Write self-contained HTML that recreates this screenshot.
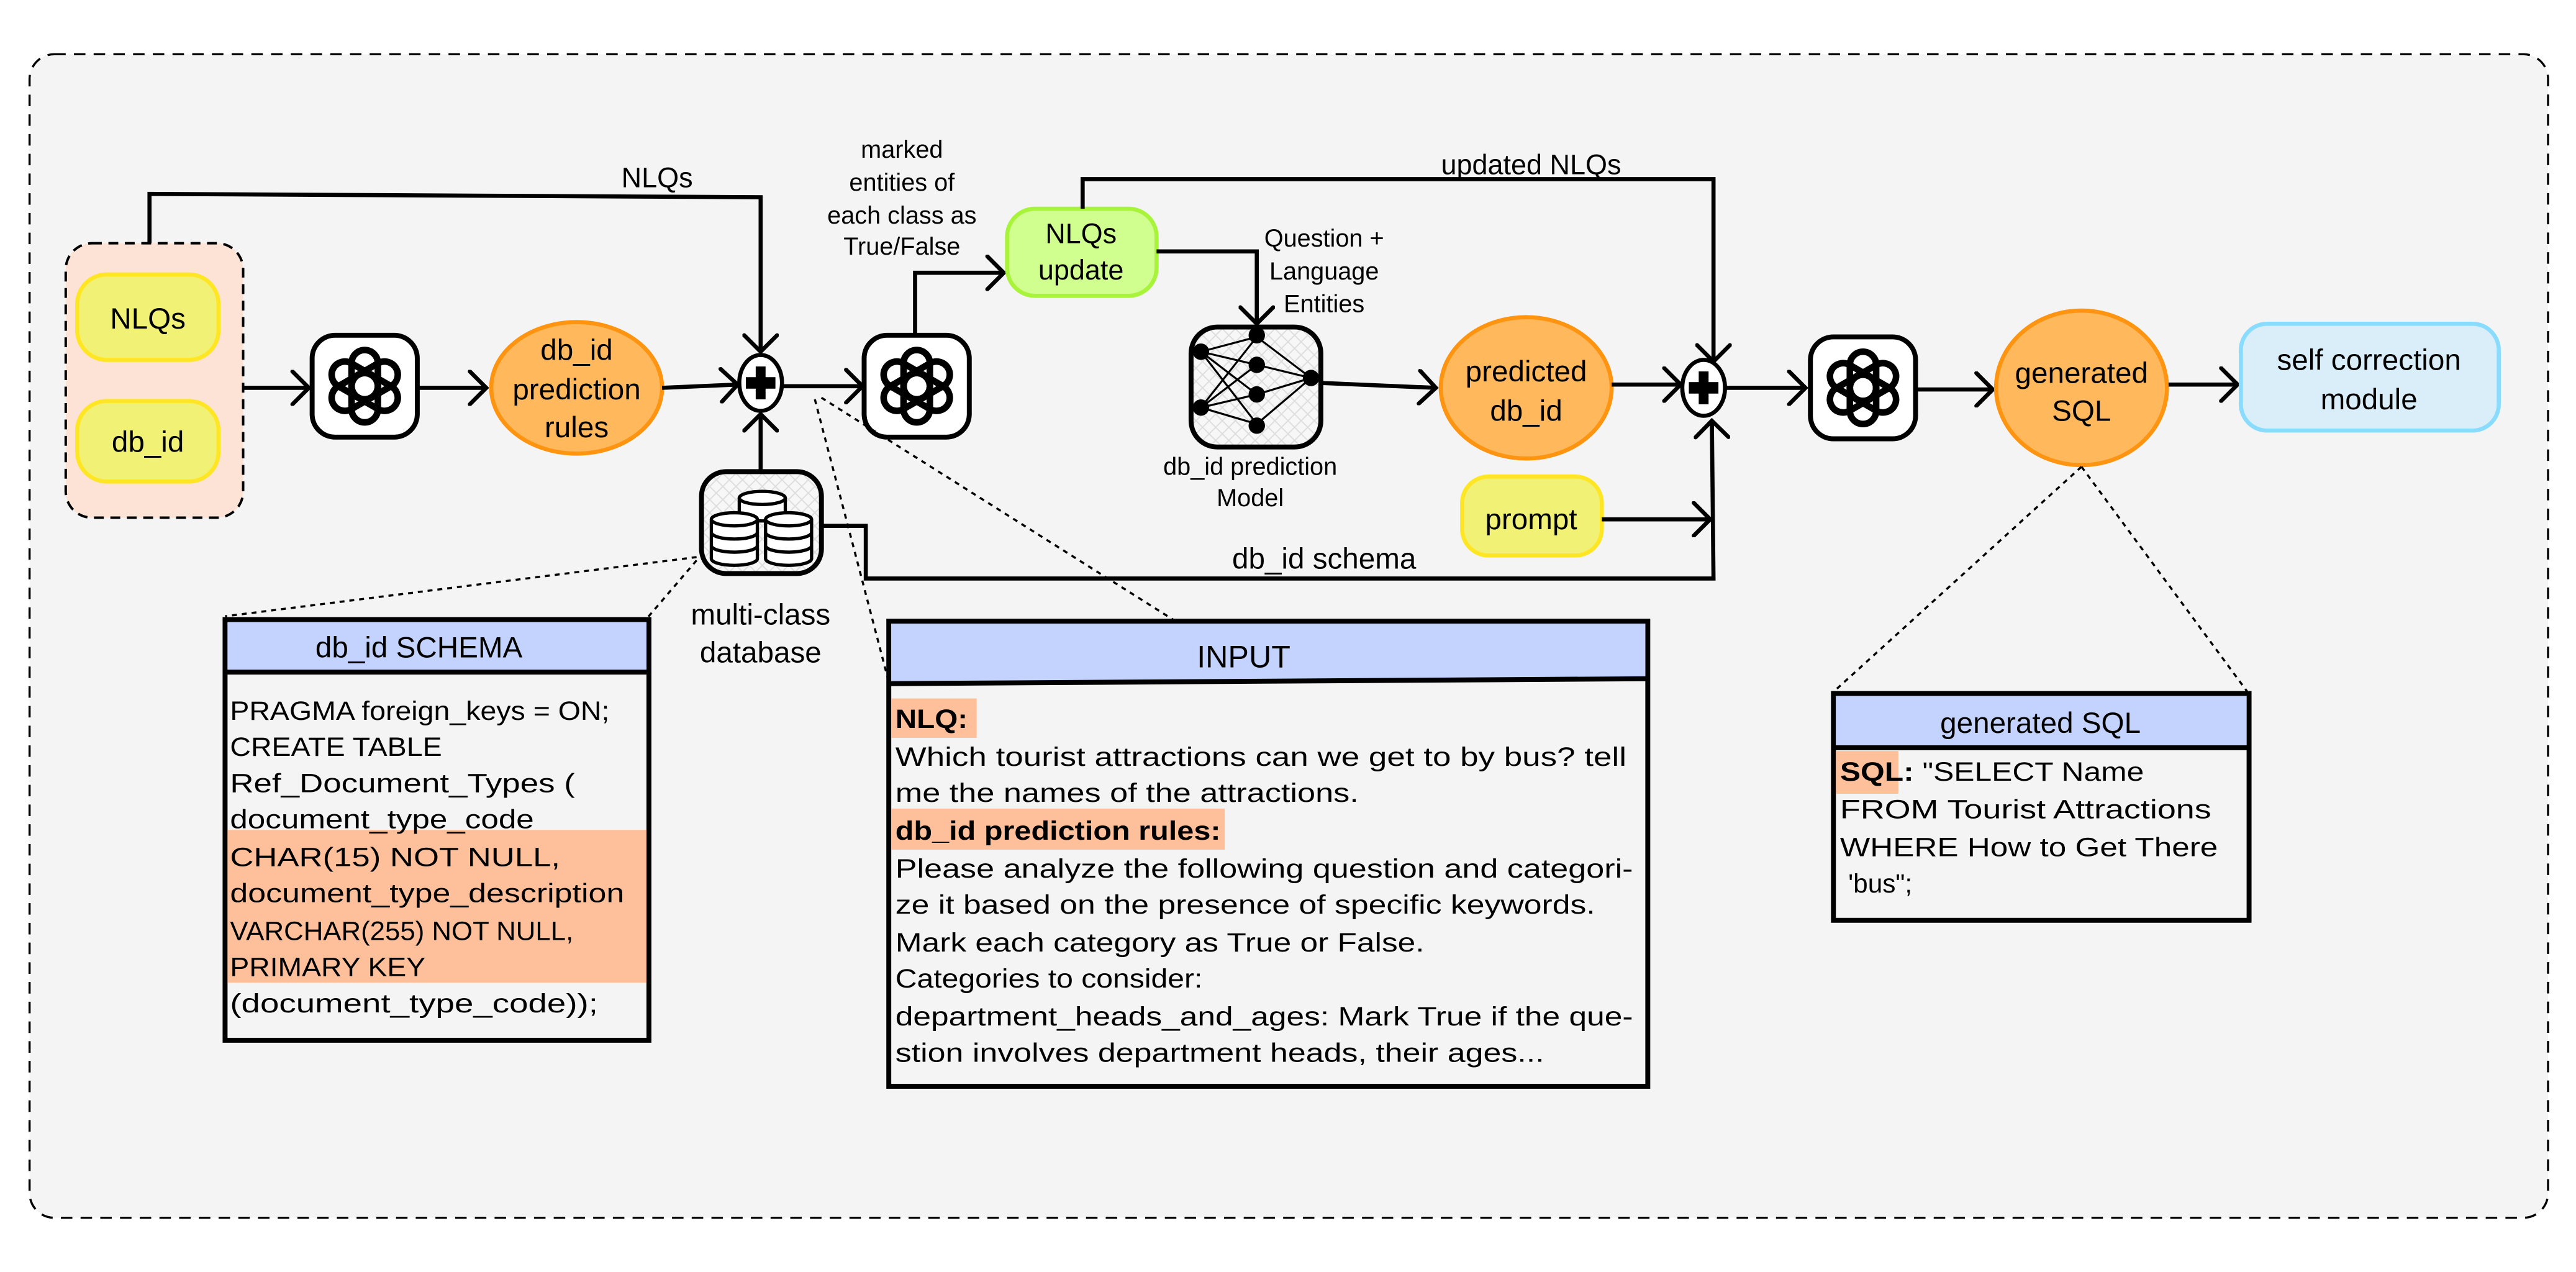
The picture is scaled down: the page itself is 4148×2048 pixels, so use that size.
<!DOCTYPE html>
<html><head><meta charset="utf-8"><style>
html,body{margin:0;padding:0;background:#fff;}
svg{display:block;}
text{font-family:"Liberation Sans",sans-serif;fill:#000;}
</style></head><body>
<svg width="4148" height="2048" viewBox="0 0 1568 774" preserveAspectRatio="none" xmlns="http://www.w3.org/2000/svg">
<defs>
<marker id="ar" markerUnits="userSpaceOnUse" markerWidth="14" markerHeight="22" refX="12" refY="11" orient="auto">
<path d="M2,1 L12,11 L2,21" fill="none" stroke="#000" stroke-width="2.5" stroke-linecap="round"/>
</marker>
<pattern id="hatch" width="8" height="8" patternUnits="userSpaceOnUse">
<rect width="8" height="8" fill="#f7f7f7"/><path d="M0,0 L8,8 M8,0 L0,8" stroke="#ddd" stroke-width="0.7"/>
</pattern>
<g id="gpt">
<rect x="-32" y="-31" width="64" height="62" rx="14" fill="#fff" stroke="#000" stroke-width="3"/>
<g fill="none" stroke="#000" stroke-width="4">
<rect x="-8" y="-22" width="16" height="30" rx="8" transform="rotate(0)"/>
<rect x="-8" y="-22" width="16" height="30" rx="8" transform="rotate(60)"/>
<rect x="-8" y="-22" width="16" height="30" rx="8" transform="rotate(120)"/>
<rect x="-8" y="-22" width="16" height="30" rx="8" transform="rotate(180)"/>
<rect x="-8" y="-22" width="16" height="30" rx="8" transform="rotate(240)"/>
<rect x="-8" y="-22" width="16" height="30" rx="8" transform="rotate(300)"/>
</g>
</g>
<g id="plus">
<ellipse cx="0" cy="0" rx="13" ry="17" fill="#fff" stroke="#000" stroke-width="2.5"/>
<rect x="-3" y="-10" width="6" height="20" fill="#000"/><rect x="-9" y="-3.5" width="18" height="7" fill="#000"/>
</g>
</defs>

<rect x="0" y="0" width="1568" height="774" fill="#fff"/>
<rect x="18" y="33" width="1533" height="708" rx="15" fill="#f4f4f4" stroke="#000" stroke-width="1.3" stroke-dasharray="7,5"/>

<rect x="40" y="148" width="108" height="167" rx="16" fill="#fde2d6" stroke="#000" stroke-width="1.5" stroke-dasharray="6,4"/>
<rect x="47" y="167" width="86" height="52" rx="18" fill="#f1f176" stroke="#ffe625" stroke-width="2.5"/>
<text x="90" y="200" font-size="18" text-anchor="middle">NLQs</text>
<rect x="47" y="244" width="86" height="49" rx="18" fill="#f1f176" stroke="#ffe625" stroke-width="2.5"/>
<text x="90" y="275" font-size="18" text-anchor="middle">db_id</text>

<path d="M91,148 L91,118 L463,120 L463,214" fill="none" stroke="#000" stroke-width="2.5" marker-end="url(#ar)"/>
<text x="400" y="114" font-size="17" text-anchor="middle">NLQs</text>

<line x1="148" y1="236" x2="188" y2="236" stroke="#000" stroke-width="2.5" marker-end="url(#ar)"/>
<use href="#gpt" x="222" y="235"/>
<line x1="254" y1="236" x2="296" y2="236" stroke="#000" stroke-width="2.5" marker-end="url(#ar)"/>
<ellipse cx="351" cy="236" rx="52" ry="40" fill="#ffb95c" stroke="#ff9410" stroke-width="2.5"/>
<text x="351" y="219" font-size="18" text-anchor="middle">db_id</text>
<text x="351" y="243" font-size="18" text-anchor="middle">prediction</text>
<text x="351" y="266" font-size="18" text-anchor="middle">rules</text>
<line x1="403" y1="236" x2="449" y2="234" stroke="#000" stroke-width="2.5" marker-end="url(#ar)"/>
<line x1="463" y1="287" x2="463" y2="252" stroke="#000" stroke-width="2.5" marker-end="url(#ar)"/>
<use href="#plus" x="463" y="233"/>
<line x1="477" y1="235" x2="525" y2="235" stroke="#000" stroke-width="2.5" marker-end="url(#ar)"/>

<rect x="427" y="287" width="73" height="62" rx="15" fill="url(#hatch)" stroke="#000" stroke-width="3"/>
<g fill="#fff" stroke="#000" stroke-width="2">
<path d="M450,303 v10 a14,4 0 0 0 28,0 v-10"/><ellipse cx="464" cy="303" rx="14" ry="4"/>
<path d="M433,316 v24 a14,4 0 0 0 28,0 v-24"/><ellipse cx="447" cy="316" rx="14" ry="4"/>
<path d="M433,324 a14,4 0 0 0 28,0 M433,332 a14,4 0 0 0 28,0" fill="none"/>
<path d="M466,316 v24 a14,4 0 0 0 28,0 v-24"/><ellipse cx="480" cy="316" rx="14" ry="4"/>
<path d="M466,324 a14,4 0 0 0 28,0 M466,332 a14,4 0 0 0 28,0" fill="none"/>
</g>
<text x="463" y="380" font-size="18" text-anchor="middle">multi-class</text>
<text x="463" y="403" font-size="18" text-anchor="middle">database</text>

<path d="M500,320 L527,320 L527,352 L1043,352 L1042,256" fill="none" stroke="#000" stroke-width="2.5" marker-end="url(#ar)"/>
<text x="806" y="346" font-size="18" text-anchor="middle">db_id schema</text>

<use href="#gpt" x="558" y="235"/>
<path d="M557,204 L557,166 L611,166" fill="none" stroke="#000" stroke-width="2.5" marker-end="url(#ar)"/>
<text font-size="15" text-anchor="middle"><tspan x="549" y="96">marked</tspan><tspan x="549" y="116">entities of</tspan><tspan x="549" y="136">each class as</tspan><tspan x="549" y="155">True/False</tspan></text>
<rect x="613" y="127" width="91" height="53" rx="17" fill="#d0ff90" stroke="#a8f43a" stroke-width="2.5"/>
<text x="658" y="148" font-size="17" text-anchor="middle">NLQs</text>
<text x="658" y="170" font-size="17" text-anchor="middle">update</text>
<path d="M704,153 L765,153 L765,197" fill="none" stroke="#000" stroke-width="2.5" marker-end="url(#ar)"/>
<text font-size="15" text-anchor="middle"><tspan x="806" y="150">Question +</tspan><tspan x="806" y="170">Language</tspan><tspan x="806" y="190">Entities</tspan></text>
<path d="M659,127 L659,109 L1043,109 L1043,220" fill="none" stroke="#000" stroke-width="2.5" marker-end="url(#ar)"/>
<text x="932" y="106" font-size="17" text-anchor="middle">updated NLQs</text>

<rect x="725" y="199" width="79" height="73" rx="16" fill="url(#hatch)" stroke="#000" stroke-width="3"/>
<g stroke="#000" stroke-width="1.2">
<path d="M731,214 L765,205 M731,214 L765,222 M731,214 L765,240 M731,214 L765,258 M731,248 L765,205 M731,248 L765,222 M731,248 L765,240 M731,248 L765,258 M765,205 L798,230 M765,222 L798,230 M765,240 L798,230 M765,258 L798,230"/>
</g>
<g fill="#000"><circle cx="731" cy="214" r="5"/><circle cx="731" cy="248" r="5"/><circle cx="765" cy="204" r="5"/><circle cx="765" cy="222" r="5"/><circle cx="765" cy="240" r="5"/><circle cx="765" cy="259" r="5"/><circle cx="798" cy="230" r="5"/></g>
<text x="761" y="289" font-size="15" text-anchor="middle">db_id prediction</text>
<text x="761" y="308" font-size="15" text-anchor="middle">Model</text>
<line x1="804" y1="233" x2="874" y2="236" stroke="#000" stroke-width="2.5" marker-end="url(#ar)"/>
<ellipse cx="929" cy="236" rx="52" ry="43" fill="#ffb95c" stroke="#ff9410" stroke-width="2.5"/>
<text x="929" y="232" font-size="18" text-anchor="middle">predicted</text>
<text x="929" y="256" font-size="18" text-anchor="middle">db_id</text>
<line x1="981" y1="234" x2="1023" y2="234" stroke="#000" stroke-width="2.5" marker-end="url(#ar)"/>
<rect x="890" y="290" width="85" height="48" rx="16" fill="#f1f176" stroke="#ffe625" stroke-width="2.5"/>
<text x="932" y="322" font-size="18" text-anchor="middle">prompt</text>
<line x1="975" y1="316" x2="1041" y2="316" stroke="#000" stroke-width="2.5" marker-end="url(#ar)"/>
<use href="#plus" x="1037" y="236"/>
<line x1="1051" y1="236" x2="1099" y2="236" stroke="#000" stroke-width="2.5" marker-end="url(#ar)"/>
<use href="#gpt" x="1134" y="236"/>
<line x1="1166" y1="237" x2="1213" y2="237" stroke="#000" stroke-width="2.5" marker-end="url(#ar)"/>
<ellipse cx="1267" cy="236" rx="52" ry="47" fill="#ffb95c" stroke="#ff9410" stroke-width="2.5"/>
<text x="1267" y="233" font-size="18" text-anchor="middle">generated</text>
<text x="1267" y="256" font-size="18" text-anchor="middle">SQL</text>
<line x1="1320" y1="234" x2="1362" y2="234" stroke="#000" stroke-width="2.5" marker-end="url(#ar)"/>
<rect x="1364" y="197" width="157" height="65" rx="16" fill="#d9eef8" stroke="#8adcff" stroke-width="2.5"/>
<text x="1442" y="225" font-size="18" text-anchor="middle">self correction</text>
<text x="1442" y="249" font-size="18" text-anchor="middle">module</text>

<g stroke="#000" stroke-width="1.3" stroke-dasharray="3,3" fill="none">
<line x1="424" y1="339" x2="137" y2="375"/>
<line x1="424" y1="341" x2="394" y2="376"/>
<line x1="496" y1="243" x2="541" y2="415"/>
<line x1="500" y1="242" x2="714" y2="377"/>
<line x1="1267" y1="284" x2="1116" y2="421"/>
<line x1="1267" y1="284" x2="1368" y2="421"/>
</g>

<rect x="137" y="377" width="258" height="256" fill="#f4f4f4" stroke="#000" stroke-width="3"/>
<rect x="138.5" y="378.5" width="255" height="30" fill="#c3d3fd"/>
<line x1="137" y1="409" x2="395" y2="409" stroke="#000" stroke-width="3"/>
<text x="255" y="400" font-size="18" text-anchor="middle">db_id SCHEMA</text>
<rect x="138.5" y="505" width="255" height="93" fill="#fec09a"/>
<g font-size="16">
<text x="140" y="438" textLength="231" lengthAdjust="spacingAndGlyphs">PRAGMA foreign_keys = ON;</text>
<text x="140" y="460" textLength="129" lengthAdjust="spacingAndGlyphs">CREATE TABLE</text>
<text x="140" y="482" textLength="210" lengthAdjust="spacingAndGlyphs">Ref_Document_Types (</text>
<text x="140" y="504" textLength="185" lengthAdjust="spacingAndGlyphs">document_type_code</text>
<text x="140" y="527" textLength="201" lengthAdjust="spacingAndGlyphs">CHAR(15) NOT NULL,</text>
<text x="140" y="549" textLength="240" lengthAdjust="spacingAndGlyphs">document_type_description</text>
<text x="140" y="572" textLength="209" lengthAdjust="spacingAndGlyphs">VARCHAR(255) NOT NULL,</text>
<text x="140" y="594" textLength="119" lengthAdjust="spacingAndGlyphs">PRIMARY KEY</text>
<text x="140" y="616" textLength="224" lengthAdjust="spacingAndGlyphs">(document_type_code));</text></g>

<rect x="541" y="378" width="462" height="283" fill="#f4f4f4" stroke="#000" stroke-width="3"/>
<rect x="542.5" y="379.5" width="459" height="35" fill="#c3d3fd"/>
<line x1="541" y1="416" x2="1003" y2="413" stroke="#000" stroke-width="3"/>
<text x="757" y="406" font-size="19" text-anchor="middle">INPUT</text>
<rect x="542.5" y="425" width="52" height="24" fill="#fec09a"/>
<rect x="542.5" y="492" width="203" height="25" fill="#fec09a"/>
<g font-size="16">
<text x="545" y="443" font-weight="bold" textLength="44" lengthAdjust="spacingAndGlyphs">NLQ:</text>
<text x="545" y="466" textLength="445" lengthAdjust="spacingAndGlyphs">Which tourist attractions can we get to by bus? tell</text>
<text x="545" y="488" textLength="282" lengthAdjust="spacingAndGlyphs">me the names of the attractions.</text>
<text x="545" y="511" font-weight="bold" textLength="198" lengthAdjust="spacingAndGlyphs">db_id prediction rules:</text>
<text x="545" y="534" textLength="449" lengthAdjust="spacingAndGlyphs">Please analyze the following question and categori-</text>
<text x="545" y="556" textLength="426" lengthAdjust="spacingAndGlyphs">ze it based on the presence of specific keywords.</text>
<text x="545" y="579" textLength="322" lengthAdjust="spacingAndGlyphs">Mark each category as True or False.</text>
<text x="545" y="601" textLength="187" lengthAdjust="spacingAndGlyphs">Categories to consider:</text>
<text x="545" y="624" textLength="449" lengthAdjust="spacingAndGlyphs">department_heads_and_ages: Mark True if the que-</text>
<text x="545" y="646" textLength="395" lengthAdjust="spacingAndGlyphs">stion involves department heads, their ages...</text></g>

<rect x="1116" y="422" width="253" height="138" fill="#f4f4f4" stroke="#000" stroke-width="3"/>
<rect x="1117.5" y="423.5" width="250" height="30" fill="#c3d3fd"/>
<line x1="1116" y1="455" x2="1369" y2="455" stroke="#000" stroke-width="3"/>
<text x="1242" y="446" font-size="18" text-anchor="middle">generated SQL</text>
<rect x="1117.5" y="457" width="38" height="26" fill="#fec09a"/>
<g font-size="16">
<text x="1120" y="475" textLength="185" lengthAdjust="spacingAndGlyphs"><tspan font-weight="bold">SQL:</tspan> "SELECT Name</text>
<text x="1120" y="498" textLength="226" lengthAdjust="spacingAndGlyphs">FROM Tourist Attractions</text>
<text x="1120" y="521" textLength="230" lengthAdjust="spacingAndGlyphs">WHERE How to Get There</text>
<text x="1125" y="543">'bus";</text></g>
</svg>
</body></html>
